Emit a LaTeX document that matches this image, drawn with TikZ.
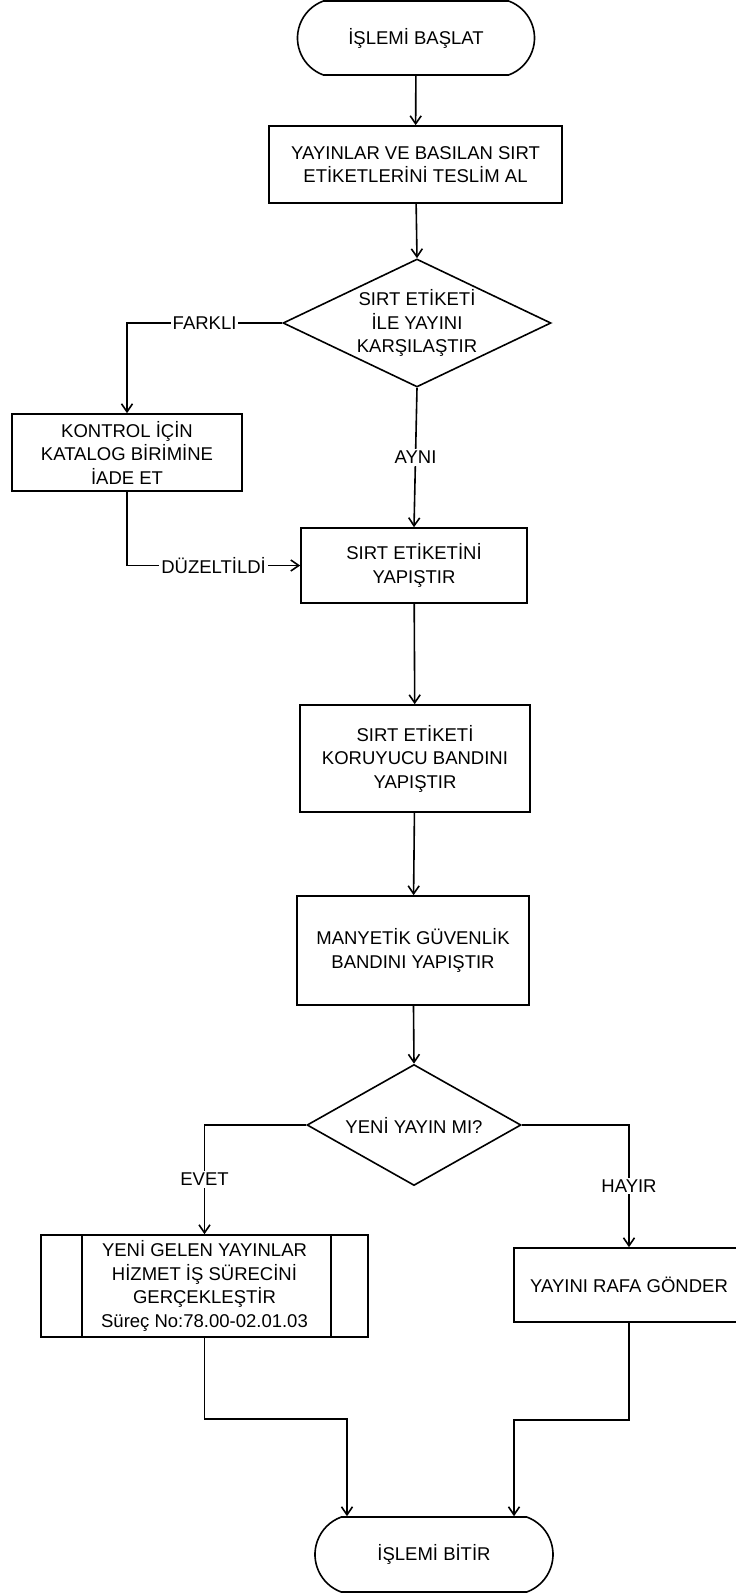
\documentclass[tikz,border=0pt]{standalone}
\usepackage{fontspec}
\setmainfont{Liberation Sans}
\usetikzlibrary{shapes.geometric,shapes.misc,arrows.meta}

\begin{document}
\begin{tikzpicture}[x=1pt,y=1pt,line width=1.6pt]
\tikzstyle{every node}+=[inner sep=0pt,font=\fontsize{18.5}{23.5}\selectfont,align=center]
\tikzstyle{term}=[draw,rounded rectangle,rounded rectangle arc length=140,minimum width=237pt,minimum height=74pt]
\tikzstyle{proc}=[draw,rectangle]
\tikzstyle{dec}=[draw,diamond]
\tikzstyle{lbl}=[fill=white,inner sep=2pt]
\tikzstyle{arr}=[-{Straight Barb[length=8pt,width=11pt]}]
\useasboundingbox (0,0) rectangle (736,-1593);
\node[term] (start) at (416,-38) {İŞLEMİ BAŞLAT};
\node[proc,minimum width=293pt,minimum height=77pt] (teslim) at (415.5,-164.5) {YAYINLAR VE BASILAN SIRT\\ETİKETLERİNİ TESLİM AL};
\node[dec,minimum width=268pt,minimum height=128pt] (karsi) at (417,-323) {};
\node (karsitxt) at (karsi) {SIRT ETİKETİ\\İLE YAYINI\\KARŞILAŞTIR};
\node[proc,minimum width=230pt,minimum height=77pt] (iade) at (127,-452.5) {KONTROL İÇİN\\KATALOG BİRİMİNE\\İADE ET};
\node[proc,minimum width=226pt,minimum height=75pt] (etiket) at (414,-565.5) {SIRT ETİKETİNİ\\YAPIŞTIR};
\node[proc,minimum width=230pt,minimum height=107pt] (koruyucu) at (415,-758.5) {SIRT ETİKETİ\\KORUYUCU BANDINI\\YAPIŞTIR};
\node[proc,minimum width=232pt,minimum height=109pt] (manyetik) at (413,-950.5) {MANYETİK GÜVENLİK\\BANDINI YAPIŞTIR};
\node[dec,minimum width=214pt,minimum height=121pt] (yeni) at (414,-1125) {};
\node (yenitxt) at (yeni) {YENİ YAYIN MI?};
\node[proc,minimum width=327pt,minimum height=102pt] (surec) at (204.5,-1286) {YENİ GELEN YAYINLAR\\HİZMET İŞ SÜRECİNİ\\GERÇEKLEŞTİR\\Süreç No:78.00-02.01.03};
\draw ([xshift=42pt]surec.north west) -- ([xshift=42pt]surec.south west);
\draw ([xshift=-38pt]surec.north east) -- ([xshift=-38pt]surec.south east);
\node[proc,minimum width=230pt,minimum height=74pt] (raf) at (629,-1285) {YAYINI RAFA GÖNDER};
\node[term,minimum width=238pt,minimum height=75pt] (bitir) at (434,-1554.5) {İŞLEMİ BİTİR};
\draw[arr] (start) -- (teslim);
\draw[arr] (teslim) -- (karsi.north);
\draw[arr] (karsi.west) -| node[lbl,pos=0.25] {FARKLI} (iade.north);
\draw[arr] (karsi.south) -- node[lbl] {AYNI} (etiket.north);
\draw[arr] (iade.south) |- node[lbl,pos=0.75] {DÜZELTİLDİ} (etiket.west);
\draw[arr] (etiket) -- (koruyucu);
\draw[arr] (koruyucu) -- (manyetik);
\draw[arr] (manyetik) -- (yeni.north);
\draw[arr] (yeni.west) -| node[lbl,pos=0.75] {EVET} (surec.north);
\draw[arr] (yeni.east) -| node[lbl,pos=0.75] {HAYIR} (raf.north);
\draw[arr] (surec.south) -- ++(0,-81) -| ([xshift=-87pt]bitir.north);
\draw[arr] (raf.south) -- ++(0,-97) -| ([xshift=80pt]bitir.north);
\end{tikzpicture}
\end{document}
